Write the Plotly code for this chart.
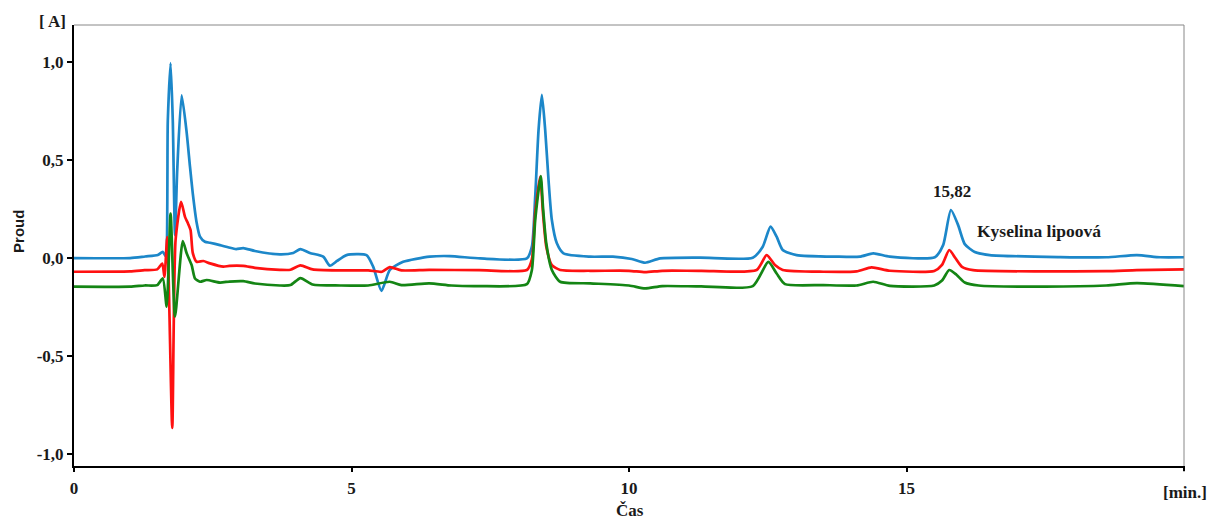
import plotly.graph_objects as go

# ---- data ----
blue_t = [0, 1.01, 1.28, 1.51, 1.60, 1.65, 1.69, 1.74, 1.78, 1.82, 1.86, 1.94, 2.03, 2.09, 2.14, 2.21,
          2.27, 2.36, 2.45, 2.63, 2.79, 2.92, 3.05, 3.26, 3.71, 3.95, 4.08, 4.25, 4.49, 4.61, 4.74,
          4.91, 5.27, 5.39, 5.54, 5.69, 5.93, 6.41, 6.77, 7.32, 8.16, 8.25, 8.31, 8.37, 8.43, 8.49,
          8.55, 8.61, 8.70, 8.82, 9.30, 9.71, 10.05, 10.29, 10.56, 11.28, 12.23, 12.41, 12.55, 12.66,
          12.77, 13.02, 13.74, 14.16, 14.40, 14.70, 15.51, 15.66, 15.80, 15.93, 16.05, 16.23, 16.50,
          17.77, 18.60, 19.15, 19.57, 20.0]
blue_y = [0.0, 0.0, 0.008, 0.015, 0.032, 0.010, 0.70, 0.995, 0.70, 0.117, 0.45, 0.83, 0.64, 0.466, 0.33, 0.18,
          0.109, 0.083, 0.078, 0.066, 0.054, 0.046, 0.051, 0.036, 0.019, 0.026, 0.046, 0.026, 0.007, -0.039, -0.015,
          0.015, 0.015, -0.044, -0.167, -0.061, -0.019, 0.007, 0.010, -0.002, -0.002, 0.058, 0.313, 0.653, 0.832, 0.653,
          0.398, 0.194, 0.075, 0.024, 0.007, 0.007, -0.005, -0.024, -0.002, 0.002, 0.002, 0.058, 0.160, 0.109,
          0.041, 0.015, 0.007, 0.007, 0.024, 0.007, 0.004, 0.066, 0.245, 0.168, 0.071, 0.031, 0.015,
          0.005, 0.004, 0.015, 0.004, 0.004]

red_t = [0, 1.01, 1.27, 1.50, 1.59, 1.63, 1.68, 1.77, 1.83, 1.93, 2.00, 2.05, 2.10, 2.14, 2.21, 2.33,
         2.45, 2.69, 2.80, 3.05, 3.26, 3.71, 3.90, 4.08, 4.30, 4.80, 5.30, 5.55, 5.69, 5.90, 6.40, 7.30, 8.16,
         8.25, 8.31, 8.40, 8.45, 8.51, 8.61, 8.76, 9.30, 10.00, 10.29, 10.60, 11.30, 12.30, 12.48, 12.63,
         12.77, 13.50, 14.10, 14.37, 14.70, 15.50, 15.64, 15.77, 15.88, 16.00, 16.20, 17.50, 18.60, 19.15, 20.0]
red_y = [-0.070, -0.068, -0.062, -0.058, -0.028, -0.096, 0.107, -0.867, 0.092, 0.287, 0.210, 0.179, 0.143, 0.026, -0.019, -0.015,
         -0.027, -0.044, -0.040, -0.040, -0.050, -0.060, -0.060, -0.037, -0.058, -0.063, -0.063, -0.070, -0.046, -0.063, -0.060, -0.062, -0.061,
         -0.007, 0.230, 0.416, 0.230, 0.058, -0.036, -0.061, -0.065, -0.065, -0.072, -0.065, -0.065, -0.061, 0.015, -0.036,
         -0.061, -0.070, -0.068, -0.048, -0.065, -0.066, -0.035, 0.041, 0.000, -0.045, -0.062, -0.068, -0.067, -0.062, -0.058]

green_t = [0, 1.01, 1.27, 1.50, 1.60, 1.67, 1.74, 1.82, 1.96, 2.03, 2.12, 2.18, 2.27, 2.39, 2.63, 2.80,
           3.05, 3.26, 3.71, 3.90, 4.08, 4.30, 4.80, 5.30, 5.69, 5.90, 6.40, 6.80, 7.30, 8.16, 8.25, 8.31, 8.41,
           8.45, 8.51, 8.61, 8.76, 9.30, 10.00, 10.29, 10.60, 11.30, 12.23, 12.51, 12.66, 12.81, 13.50,
           14.10, 14.40, 14.70, 15.50, 15.64, 15.77, 15.90, 16.05, 16.30, 17.50, 18.60, 19.15, 20.0]
green_y = [-0.146, -0.146, -0.140, -0.138, -0.104, -0.248, 0.227, -0.299, 0.087, 0.024, -0.036, -0.104, -0.121, -0.112, -0.125, -0.120,
           -0.118, -0.130, -0.140, -0.138, -0.102, -0.135, -0.140, -0.140, -0.121, -0.138, -0.129, -0.140, -0.143, -0.133, -0.061, 0.194, 0.418,
           0.260, 0.074, -0.061, -0.121, -0.129, -0.140, -0.155, -0.143, -0.145, -0.143, -0.020, -0.079, -0.133, -0.138,
           -0.140, -0.121, -0.142, -0.140, -0.115, -0.061, -0.085, -0.125, -0.140, -0.146, -0.140, -0.128, -0.143]

y_tickvals = [1.0, 0.5, 0.0, -0.5, -1.0]
y_ticktext = ["1,0", "0,5", "0,0", "-0,5", "-1,0"]
x_tickvals = [0, 5, 10, 15]
x_ticktext = ["0", "5", "10", "15"]

series = [
    ("blue", blue_t, blue_y, "#1C87C9"),
    ("red", red_t, red_y, "#FF1111"),
    ("green", green_t, green_y, "#148514"),
]

fig = go.Figure()
for name, t, y, c in series:
    fig.add_trace(go.Scatter(x=t, y=y, mode="lines", name=name,
                             line=dict(color=c, width=2.7, shape="spline", smoothing=0.6),
                             showlegend=False, hoverinfo="skip"))

ink = "#1a1a1a"
serif = "Liberation Serif"
tick_font = dict(family=serif, size=17, color=ink, weight="bold")

fig.update_layout(
    width=1211, height=521,
    margin=dict(l=74, r=27, t=25, b=55),
    paper_bgcolor="white", plot_bgcolor="white",
    xaxis=dict(range=[0, 20], tickvals=x_tickvals, ticktext=x_ticktext, showgrid=False, zeroline=False,
               showline=True, linecolor="black", linewidth=2, ticks="outside", ticklen=4, tickwidth=2,
               tickcolor="black", tickfont=tick_font, ticklabelstandoff=2),
    yaxis=dict(range=[-1.061, 1.189], tickvals=y_tickvals, ticktext=y_ticktext, showgrid=False, zeroline=False,
               showline=True, linecolor="black", linewidth=2, ticks="outside", ticklen=5, tickwidth=2,
               tickcolor="black", tickfont=tick_font, ticklabelstandoff=0),
    shapes=[
        dict(type="line", xref="paper", yref="paper", x0=0, x1=1, y0=1, y1=1, line=dict(color="#888888", width=1)),
        dict(type="line", xref="paper", yref="paper", x0=1, x1=1, y0=0, y1=1, line=dict(color="#888888", width=1)),
        dict(type="line", xref="paper", yref="paper", x0=1, x1=1, y0=0, y1=-0.012, line=dict(color="black", width=2)),
    ],
    annotations=[
        dict(text="[ A]", xref="paper", yref="paper", x=-0.0198, y=1.009, xanchor="center", yanchor="middle",
             showarrow=False, font=dict(family=serif, size=17, color=ink, weight="bold")),
        dict(text="Proud", xref="paper", yref="paper", x=-0.0495, y=0.531, xanchor="center", yanchor="middle",
             textangle=-90, showarrow=False, font=dict(family="Liberation Sans", size=15, color=ink, weight="bold")),
        dict(text="Čas", xref="paper", yref="paper", x=0.5009, y=-0.0998, xanchor="center", yanchor="middle",
             showarrow=False, font=dict(family=serif, size=17, color=ink, weight="bold")),
        dict(text="[min.]", xref="paper", yref="paper", x=1.001, y=-0.061, xanchor="center", yanchor="middle",
             showarrow=False, font=dict(family=serif, size=17, color=ink, weight="bold")),
        dict(text="15,82", xref="x", yref="y", x=15.82, y=0.342, xanchor="center", yanchor="middle",
             showarrow=False, font=dict(family=serif, size=17, color=ink, weight="bold")),
        dict(text="Kyselina lipoová", xref="x", yref="y", x=16.23, y=0.138, xanchor="left", yanchor="middle",
             showarrow=False, font=dict(family=serif, size=17.5, color=ink, weight="bold")),
    ],
)

fig.write_html("out.html",
               config={"displayModeBar": False},
               post_script="document.body.style.margin='0';document.body.style.overflow='hidden';")
